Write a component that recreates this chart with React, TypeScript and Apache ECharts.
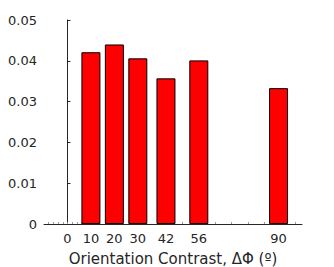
import React, { useEffect, useRef } from "react";
import * as echarts from "echarts";

const contrasts = [10, 20, 30, 42, 56, 90];
const values = [0.0421, 0.0440, 0.0406, 0.0357, 0.0401, 0.0333];
const xTickLabels = [0, 10, 20, 30, 42, 56, 90];
const xMinorTicks = [-8, -6, -4, -2, 0, 2, 4, 6, 49, 63, 70, 77, 84, 97];
const yTicks = [0, 0.01, 0.02, 0.03, 0.04, 0.05];

export default function App() {
  const ref = useRef<HTMLDivElement>(null);
  useEffect(() => {
    const chart = echarts.init(ref.current!, null, { renderer: "svg" });
    chart.setOption({
      animation: false,
      backgroundColor: "#ffffff",
      grid: { left: 44, top: 20, right: 32, bottom: 43, containLabel: false, outerBoundsMode: "none" },
      xAxis: {
        type: "value",
        min: -10,
        max: 100,
        name: "Orientation Contrast, ΔΦ (º)",
        nameLocation: "middle",
        nameGap: 27,
        nameTextStyle: { fontFamily: "DejaVu Sans", fontSize: 15, color: "#262626" },
        axisLine: { show: true, onZero: false, lineStyle: { color: "#262626", width: 1 } },
        axisTick: {
          show: true,
          inside: true,
          length: 2,
          customValues: xMinorTicks,
          lineStyle: { color: "#999999", width: 1 },
        },
        axisLabel: {
          customValues: xTickLabels,
          fontFamily: "DejaVu Sans",
          fontSize: 13,
          color: "#262626",
          margin: 8,
        },
        splitLine: { show: false },
      },
      yAxis: {
        type: "value",
        min: 0,
        max: 0.05,
        interval: 0.01,
        axisLine: { show: true, lineStyle: { color: "#262626", width: 1 } },
        axisTick: { show: true, inside: true, length: 3, lineStyle: { color: "#262626" } },
        axisLabel: {
          fontFamily: "DejaVu Sans",
          fontSize: 13,
          color: "#262626",
          margin: 7,
          formatter: (v: number) => {
            const t = yTicks.find((y) => Math.abs(y - v) < 1e-9);
            return t === 0 ? "0" : String(Number(v.toFixed(2)));
          },
        },
        splitLine: { show: false },
      },
      series: [
        {
          type: "bar",
          data: contrasts.map((c, i) => [c, values[i]]),
          barWidth: 19,
          itemStyle: { color: "#ff0000", borderColor: "#000000", borderWidth: 1 },
        },
      ],
    });
    return () => chart.dispose();
  }, []);
  return <div ref={ref} style={{ width: 334, height: 267, position: "absolute", left: 0, top: 0 }} />;
}
